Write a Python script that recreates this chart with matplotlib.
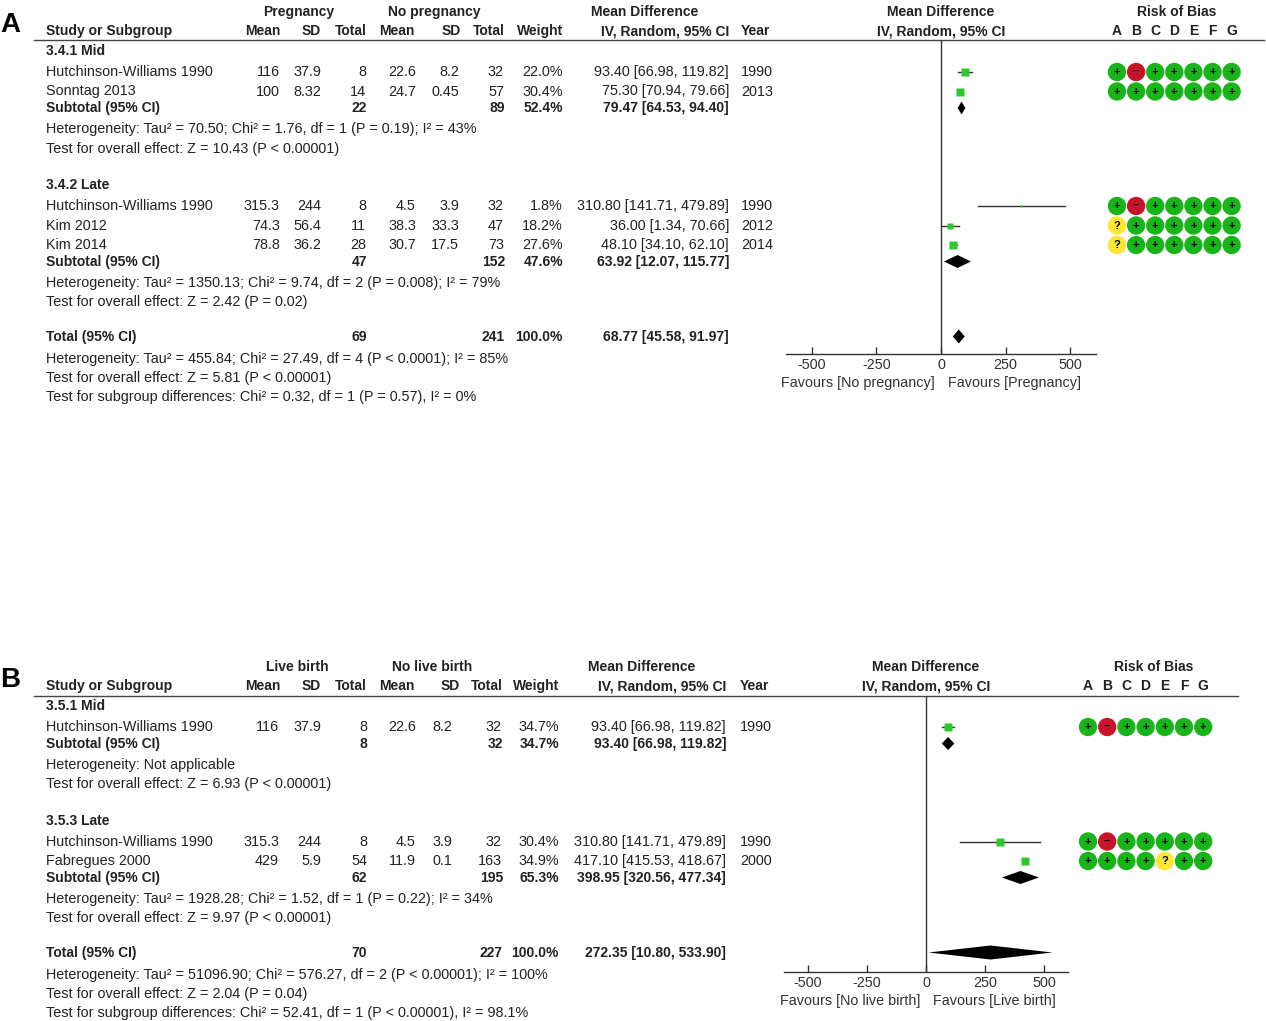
import numpy as np
import matplotlib
matplotlib.use('Agg')
from matplotlib import pyplot as plt
from matplotlib import transforms

plt.rcParams['font.family'] = ['Liberation Sans', 'DejaVu Sans']
plt.rcParams['axes.unicode_minus'] = False

W, H = 1266, 1021
TXT = '#222222'
SQ_GREEN = '#2ec82e'
ROB_COLORS = {'+': '#19b419', '-': '#c8142a', '?': '#ffe632'}
ROB_SYMB = {'+': '+', '-': '–', '?': '?'}
FS = 10.4      # regular text
FS_B = 10      # bold text

# ---------------- panel A: pregnancy ----------------
a_groups = ['Pregnancy', 'No pregnancy']
a_sub_names = ['3.4.1 Mid', '3.4.2 Late']
a_study = ['Hutchinson-Williams 1990', 'Sonntag 2013',
           'Hutchinson-Williams 1990', 'Kim 2012', 'Kim 2014']
a_sub_idx = [0, 0, 1, 1, 1]
a_e_mean = [116, 100, 315.3, 74.3, 78.8]
a_e_sd = [37.9, 8.32, 244, 56.4, 36.2]
a_e_n = [8, 14, 8, 11, 28]
a_c_mean = [22.6, 24.7, 4.5, 38.3, 30.7]
a_c_sd = [8.2, 0.45, 3.9, 33.3, 17.5]
a_c_n = [32, 57, 32, 47, 73]
a_weight = [22.0, 30.4, 1.8, 18.2, 27.6]
a_md = [93.40, 75.30, 310.80, 36.00, 48.10]
a_lo = [66.98, 70.94, 141.71, 1.34, 34.10]
a_hi = [119.82, 79.66, 479.89, 70.66, 62.10]
a_year = [1990, 2013, 1990, 2012, 2014]
a_rob = ['+-+++++', '+++++++', '+-+++++', '?++++++', '?++++++']
a_sub_e_n = [22, 47]
a_sub_c_n = [89, 152]
a_sub_weight = [52.4, 47.6]
a_sub_md = [79.47, 63.92]
a_sub_lo = [64.53, 12.07]
a_sub_hi = [94.40, 115.77]
a_sub_het = ['Heterogeneity: Tau² = 70.50; Chi² = 1.76, df = 1 (P = 0.19); I² = 43%',
             'Heterogeneity: Tau² = 1350.13; Chi² = 9.74, df = 2 (P = 0.008); I² = 79%']
a_sub_z = ['Test for overall effect: Z = 10.43 (P < 0.00001)',
           'Test for overall effect: Z = 2.42 (P = 0.02)']
a_tot = [68.77, 45.58, 91.97]
a_tot_n = [69, 241]
a_tot_notes = ['Heterogeneity: Tau² = 455.84; Chi² = 27.49, df = 4 (P < 0.0001); I² = 85%',
               'Test for overall effect: Z = 5.81 (P < 0.00001)',
               'Test for subgroup differences: Chi² = 0.32, df = 1 (P = 0.57), I² = 0%']
a_favours = ['Favours [No pregnancy]', 'Favours [Pregnancy]']

# ---------------- panel B: live birth ----------------
b_groups = ['Live birth', 'No live birth']
b_sub_names = ['3.5.1 Mid', '3.5.3 Late']
b_study = ['Hutchinson-Williams 1990', 'Hutchinson-Williams 1990', 'Fabregues 2000']
b_sub_idx = [0, 1, 1]
b_e_mean = [116, 315.3, 429]
b_e_sd = [37.9, 244, 5.9]
b_e_n = [8, 8, 54]
b_c_mean = [22.6, 4.5, 11.9]
b_c_sd = [8.2, 3.9, 0.1]
b_c_n = [32, 32, 163]
b_weight = [34.7, 30.4, 34.9]
b_md = [93.40, 310.80, 417.10]
b_lo = [66.98, 141.71, 415.53]
b_hi = [119.82, 479.89, 418.67]
b_year = [1990, 1990, 2000]
b_rob = ['+-+++++', '+-+++++', '++++?++']
b_sub_e_n = [8, 62]
b_sub_c_n = [32, 195]
b_sub_weight = [34.7, 65.3]
b_sub_md = [93.40, 398.95]
b_sub_lo = [66.98, 320.56]
b_sub_hi = [119.82, 477.34]
b_sub_het = ['Heterogeneity: Not applicable',
             'Heterogeneity: Tau² = 1928.28; Chi² = 1.52, df = 1 (P = 0.22); I² = 34%']
b_sub_z = ['Test for overall effect: Z = 6.93 (P < 0.00001)',
           'Test for overall effect: Z = 9.97 (P < 0.00001)']
b_tot = [272.35, 10.80, 533.90]
b_tot_n = [70, 227]
b_tot_notes = ['Heterogeneity: Tau² = 51096.90; Chi² = 576.27, df = 2 (P < 0.00001); I² = 100%',
               'Test for overall effect: Z = 2.04 (P = 0.04)',
               'Test for subgroup differences: Chi² = 52.41, df = 1 (P < 0.00001), I² = 98.1%']
b_favours = ['Favours [No live birth]', 'Favours [Live birth]']

rob_letters = ['A', 'B', 'C', 'D', 'E', 'F', 'G']
x_ticks = [-500, -250, 0, 250, 500]


def fmt(v):
    return f'{v:g}'


def px_axes(fig, left, top, right, bottom):
    return fig.add_axes([left / W, 1 - bottom / H, (right - left) / W, (bottom - top) / H])


def draw_panel(fig, ax, top, letter, d, geo):
    kw = dict(color=TXT, fontsize=FS, va='center')
    bkw = dict(color=TXT, fontsize=FS_B, va='center', fontweight='bold')
    cols = geo['cols']

    # letter + headers
    ax.text(0, top + 25, letter, fontsize=20, fontweight='bold', va='center', color='black')
    ax.text(geo['grp'][0], top + 12, d['groups'][0], ha='center', **bkw)
    ax.text(geo['grp'][1], top + 12, d['groups'][1], ha='center', **bkw)
    ax.text(46, top + 31, 'Study or Subgroup', ha='left', **bkw)
    for c, lab in zip(cols, ['Mean', 'SD', 'Total', 'Mean', 'SD', 'Total']):
        ax.text(c, top + 31, lab, ha='right', **bkw)
    ax.text(geo['w'], top + 31, 'Weight', ha='right', **bkw)
    ax.text(geo['ci_c'], top + 12, 'Mean Difference', ha='center', **bkw)
    ax.text(geo['ci'], top + 31, 'IV, Random, 95% CI', ha='right', **bkw)
    ax.text(geo['yr'], top + 31, 'Year', ha='left', **bkw)
    line_y = top + 40.5
    ax.plot([34, geo['line_end']], [line_y, line_y], color='#444444', lw=1)

    # row layout
    y = top + 51
    study_y, sub_y, z_y = [], [], None
    for g, name in enumerate(d['sub_names']):
        ax.text(46, y, name, ha='left', **bkw)
        y += 21
        for i in [k for k, s in enumerate(d['sub_idx']) if s == g]:
            study_y.append(y)
            ax.text(46, y, d['study'][i], ha='left', **kw)
            vals = [d['e_mean'][i], d['e_sd'][i], d['e_n'][i],
                    d['c_mean'][i], d['c_sd'][i], d['c_n'][i]]
            for c, v in zip(geo['dcols'], vals):
                ax.text(c, y, fmt(v), ha='right', **kw)
            ax.text(geo['w'], y, f"{d['weight'][i]:.1f}%", ha='right', **kw)
            ax.text(geo['ci'], y, f"{d['md'][i]:.2f} [{d['lo'][i]:.2f}, {d['hi'][i]:.2f}]",
                    ha='right', **kw)
            ax.text(geo['yr'], y, str(d['year'][i]), ha='left', **kw)
            y += 19.5
        y += 16.5 - 19.5
        sub_y.append(y)
        ax.text(46, y, 'Subtotal (95% CI)', ha='left', **bkw)
        ax.text(cols[2], y, str(d['sub_e_n'][g]), ha='right', **bkw)
        ax.text(cols[5], y, str(d['sub_c_n'][g]), ha='right', **bkw)
        ax.text(geo['w'], y, f"{d['sub_weight'][g]:.1f}%", ha='right', **bkw)
        ax.text(geo['ci'], y, f"{d['sub_md'][g]:.2f} [{d['sub_lo'][g]:.2f}, {d['sub_hi'][g]:.2f}]",
                ha='right', **bkw)
        y += 21
        ax.text(46, y, d['sub_het'][g], ha='left', **kw)
        y += 19.5
        ax.text(46, y, d['sub_z'][g], ha='left', **kw)
        z_y = y
        y += 36.5
    tot_y = z_y + 34.5
    ax.text(46, tot_y, 'Total (95% CI)', ha='left', **bkw)
    ax.text(cols[2], tot_y, str(d['tot_n'][0]), ha='right', **bkw)
    ax.text(cols[5], tot_y, str(d['tot_n'][1]), ha='right', **bkw)
    ax.text(geo['w'], tot_y, '100.0%', ha='right', **bkw)
    ax.text(geo['ci'], tot_y, f"{d['tot'][0]:.2f} [{d['tot'][1]:.2f}, {d['tot'][2]:.2f}]",
            ha='right', **bkw)
    ny = tot_y + 22
    for note in d['tot_notes']:
        ax.text(46, ny, note, ha='left', **kw)
        ny += 19.3

    # forest plot
    fl, fr, fb = geo['forest']
    fa = px_axes(fig, fl, line_y, fr, fb)
    fa.set_xlim(-600, 600)
    fa.set_ylim(fb, line_y)
    fa.patch.set_visible(False)
    for s in ['left', 'right', 'top']:
        fa.spines[s].set_visible(False)
    fa.spines['bottom'].set_color('#333333')
    fa.spines['bottom'].set_linewidth(1)
    fa.set_yticks([])
    fa.set_xticks(x_ticks)
    fa.set_xticklabels([str(t) for t in x_ticks])
    fa.tick_params(axis='x', direction='in', length=5, width=1, color='#333333',
                   labelsize=FS, labelcolor='#333333', pad=3)
    fa.axvline(0, color='#333333', lw=1)
    for yy, md, lo, hi, w in zip(study_y, d['md'], d['lo'], d['hi'], d['weight']):
        fa.plot([lo, hi], [yy, yy], color='#333333', lw=1)
        side = 9.0 * np.sqrt(w / 35.0)
        fa.plot(md, yy, marker='s', ms=side * 0.72, color=SQ_GREEN, mec='none')
    dia = [(sy, d['sub_md'][g], d['sub_lo'][g], d['sub_hi'][g], 6.5)
           for g, sy in enumerate(sub_y)]
    dia.append((tot_y, d['tot'][0], d['tot'][1], d['tot'][2], 7))
    for yy, md, lo, hi, hh in dia:
        fa.fill([lo, md, hi, md], [yy, yy - hh, yy, yy + hh], color='black', lw=0)
    lab_y = fb + 29
    off_l = transforms.offset_copy(fa.transData, fig=fig, x=-6, y=0, units='dots')
    off_r = transforms.offset_copy(fa.transData, fig=fig, x=7, y=0, units='dots')
    fa.text(0, lab_y, d['favours'][0], ha='right', va='center', fontsize=FS,
            color='#333333', transform=off_l, clip_on=False)
    fa.text(0, lab_y, d['favours'][1], ha='left', va='center', fontsize=FS,
            color='#333333', transform=off_r, clip_on=False)
    fc = (fl + fr) / 2
    ax.text(fc, top + 12, 'Mean Difference', ha='center', **bkw)
    ax.text(fc, top + 31, 'IV, Random, 95% CI', ha='center', **bkw)

    # risk of bias
    x0, dx, title_shift = geo['rob']
    ra = px_axes(fig, x0 - dx / 2, line_y, x0 + 6.5 * dx, fb)
    ra.set_xlim(-0.5, 6.5)
    ra.set_ylim(fb, line_y)
    ra.axis('off')
    for yy, code in zip(study_y, d['rob']):
        for j, ch in enumerate(code):
            ra.scatter(j, yy, s=175, color=ROB_COLORS[ch], edgecolors='none', zorder=2)
            ra.text(j, yy, ROB_SYMB[ch], ha='center', va='center', fontsize=8,
                    fontweight='bold', color='black', zorder=3)
    for j, letter_ in enumerate(rob_letters):
        ra.text(j, top + 31, letter_, ha='center', va='center', clip_on=False,
                color=TXT, fontsize=FS_B, fontweight='bold')
    ra.text(3 + title_shift, top + 12, 'Risk of Bias', ha='center', va='center',
            clip_on=False, color=TXT, fontsize=FS_B, fontweight='bold')


panel_a = dict(groups=a_groups, sub_names=a_sub_names, study=a_study, sub_idx=a_sub_idx,
               e_mean=a_e_mean, e_sd=a_e_sd, e_n=a_e_n, c_mean=a_c_mean, c_sd=a_c_sd,
               c_n=a_c_n, weight=a_weight, md=a_md, lo=a_lo, hi=a_hi, year=a_year,
               rob=a_rob, sub_e_n=a_sub_e_n, sub_c_n=a_sub_c_n, sub_weight=a_sub_weight,
               sub_md=a_sub_md, sub_lo=a_sub_lo, sub_hi=a_sub_hi, sub_het=a_sub_het,
               sub_z=a_sub_z, tot=a_tot, tot_n=a_tot_n, tot_notes=a_tot_notes,
               favours=a_favours)
panel_b = dict(groups=b_groups, sub_names=b_sub_names, study=b_study, sub_idx=b_sub_idx,
               e_mean=b_e_mean, e_sd=b_e_sd, e_n=b_e_n, c_mean=b_c_mean, c_sd=b_c_sd,
               c_n=b_c_n, weight=b_weight, md=b_md, lo=b_lo, hi=b_hi, year=b_year,
               rob=b_rob, sub_e_n=b_sub_e_n, sub_c_n=b_sub_c_n, sub_weight=b_sub_weight,
               sub_md=b_sub_md, sub_lo=b_sub_lo, sub_hi=b_sub_hi, sub_het=b_sub_het,
               sub_z=b_sub_z, tot=b_tot, tot_n=b_tot_n, tot_notes=b_tot_notes,
               favours=b_favours)

geo_a = dict(cols=[281, 321, 367, 415, 461, 505], dcols=[280, 321, 366, 416, 459, 504],
             grp=[299, 434], w=563, ci=729, ci_c=645, yr=741, line_end=1264,
             forest=(786, 1096, 354), rob=(1117, 19.1, 0.1))
geo_b = dict(cols=[281, 321, 367, 415, 460, 503], dcols=[279, 321, 367, 416, 452, 502],
             grp=[297, 432], w=559, ci=726, ci_c=642, yr=740, line_end=1238,
             forest=(784, 1068, 972), rob=(1088, 19.2, 0.4))

fig = plt.figure(figsize=(W / 100, H / 100), dpi=100)
ax = fig.add_axes([0, 0, 1, 1])
ax.set_xlim(0, W)
ax.set_ylim(H, 0)
ax.axis('off')

draw_panel(fig, ax, 0, 'A', panel_a, geo_a)
draw_panel(fig, ax, 655, 'B', panel_b, geo_b)

fig.savefig('out.png', dpi=100, facecolor='white')
